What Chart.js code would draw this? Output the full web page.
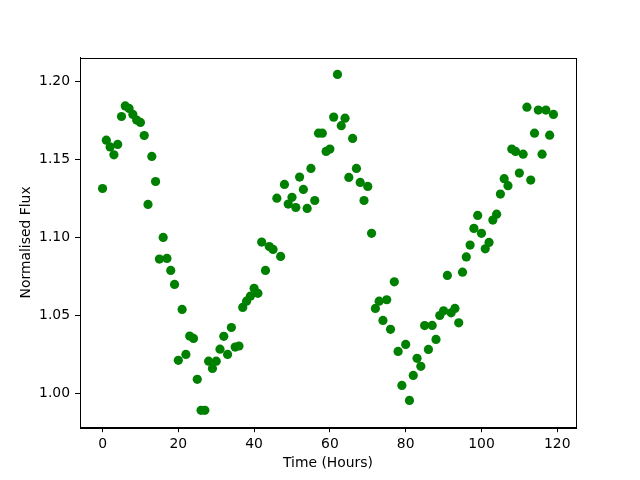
<!DOCTYPE html>
<html>
<head>
<meta charset="utf-8">
<title>Normalised Flux</title>
<script src="https://cdn.jsdelivr.net/npm/chart.js@4/dist/chart.umd.min.js"></script>
<style>
  html, body { margin: 0; padding: 0; background: #fff; }
  #wrap { width: 640px; height: 480px; }
</style>
</head>
<body>
<div id="wrap"><canvas id="fluxChart" width="640" height="480"></canvas></div>
<script>
// time of each sample (hours)
const hours = [
  0, 1, 2, 3, 4, 5, 6, 7, 8, 9, 10, 11, 12, 13, 14, 15, 16, 17, 18, 19,
  20, 21, 22, 23, 24, 25, 26, 27, 28, 29, 30, 31, 32, 33, 34, 35, 36, 37, 38, 39,
  40, 41, 42, 43, 44, 45, 46, 47, 48, 49, 50, 51, 52, 53, 54, 55, 56, 57, 58, 59,
  60, 61, 62, 63, 64, 65, 66, 67, 68, 69, 70, 71, 72, 73, 74, 75, 76, 77, 78, 79,
  80, 81, 82, 83, 84, 85, 86, 87, 88, 89, 90, 91, 92, 93, 94, 95, 96, 97, 98, 99,
  100, 101, 102, 103, 104, 105, 106, 107, 108, 109, 110, 111, 112, 113, 114, 115, 116, 117, 118, 119
];

// normalised flux
const flux = [
  1.1315, 1.1625, 1.1582, 1.1531, 1.1598, 1.1777, 1.1845, 1.1829, 1.1790, 1.1754,
  1.1739, 1.1655, 1.1213, 1.1521, 1.1360, 1.0862, 1.1001, 1.0866, 1.0789, 1.0699,
  1.0212, 1.0539, 1.0250, 1.0368, 1.0353, 1.0090, 0.9891, 0.9891, 1.0207, 1.0160,
  1.0207, 1.0284, 1.0366, 1.0250, 1.0423, 1.0297, 1.0304, 1.0552, 1.0592, 1.0624,
  1.0674, 1.0642, 1.0971, 1.0789, 1.0942, 1.0924, 1.1253, 1.0879, 1.1341, 1.1215,
  1.1258, 1.1193, 1.1388, 1.1309, 1.1187, 1.1444, 1.1238, 1.1670, 1.1670, 1.1553,
  1.1568, 1.1773, 1.2047, 1.1718, 1.1766, 1.1386, 1.1636, 1.1444, 1.1354, 1.1238,
  1.1328, 1.1027, 1.0545, 1.0592, 1.0468, 1.0601, 1.0411, 1.0716, 1.0269, 1.0051,
  1.0314, 0.9955, 1.0115, 1.0225, 1.0174, 1.0435, 1.0282, 1.0436, 1.0346, 1.0500,
  1.0530, 1.0757, 1.0517, 1.0545, 1.0453, 1.0778, 1.0876, 1.0952, 1.1059, 1.1142,
  1.1027, 1.0928, 1.0969, 1.1112, 1.1150, 1.1279, 1.1378, 1.1333, 1.1568, 1.1553,
  1.1414, 1.1535, 1.1837, 1.1369, 1.1670, 1.1818, 1.1535, 1.1818, 1.1657, 1.1790
];

const xTicks = [0, 20, 40, 60, 80, 100, 120];
const yTicks = [1.00, 1.05, 1.10, 1.15, 1.20];

const points = hours.map((h, i) => ({ x: h, y: flux[i] }));

const fontFamily = '"DejaVu Sans", sans-serif';

// frame on all four sides, like matplotlib spines
const framePlugin = {
  id: 'frame',
  afterDraw(chart) {
    const a = chart.chartArea;
    const ctx = chart.ctx;
    ctx.save();
    ctx.strokeStyle = '#000';
    ctx.lineWidth = 1;
    ctx.strokeRect(Math.round(a.left) + 0.5, Math.round(a.top) + 0.5,
      Math.round(a.right - a.left), Math.round(a.bottom - a.top));
    ctx.restore();
  }
};

new Chart(document.getElementById('fluxChart').getContext('2d'), {
  type: 'scatter',
  data: {
    datasets: [{
      data: points,
      backgroundColor: '#008000',
      borderColor: '#008000',
      borderWidth: 0,
      pointRadius: 4.6,
      pointHoverRadius: 4.6
    }]
  },
  options: {
    responsive: false,
    animation: false,
    layout: { padding: { left: 0, right: 64, top: 57.6, bottom: 0 } },
    plugins: {
      legend: { display: false },
      tooltip: { enabled: false }
    },
    scales: {
      x: {
        type: 'linear',
        min: -5.95,
        max: 124.95,
        afterFit: s => { s.height = 52.8; },
        afterBuildTicks: s => { s.ticks = xTicks.map(v => ({ value: v })); },
        grid: { drawOnChartArea: false, drawTicks: true, tickLength: 5, color: '#000' },
        border: { display: true, color: '#000' },
        ticks: {
          padding: 4,
          color: '#000',
          font: { family: fontFamily, size: 13.9 },
          callback: v => String(v)
        },
        title: {
          display: true,
          text: 'Time (Hours)',
          color: '#000',
          font: { family: fontFamily, size: 13.9 },
          padding: { top: 0, bottom: 8.6 }
        }
      },
      y: {
        type: 'linear',
        min: 0.9783,
        max: 1.2155,
        afterFit: s => { s.width = 80; },
        afterBuildTicks: s => { s.ticks = yTicks.map(v => ({ value: v })); },
        grid: { drawOnChartArea: false, drawTicks: true, tickLength: 5, color: '#000' },
        border: { display: true, color: '#000' },
        ticks: {
          padding: 5,
          color: '#000',
          font: { family: fontFamily, size: 13.9 },
          callback: v => Number(v).toFixed(2)
        },
        title: {
          display: true,
          text: 'Normalised Flux',
          color: '#000',
          font: { family: fontFamily, size: 13.9 },
          padding: { top: 17.6, bottom: 0 }
        }
      }
    }
  },
  plugins: [framePlugin]
});
</script>
</body>
</html>
